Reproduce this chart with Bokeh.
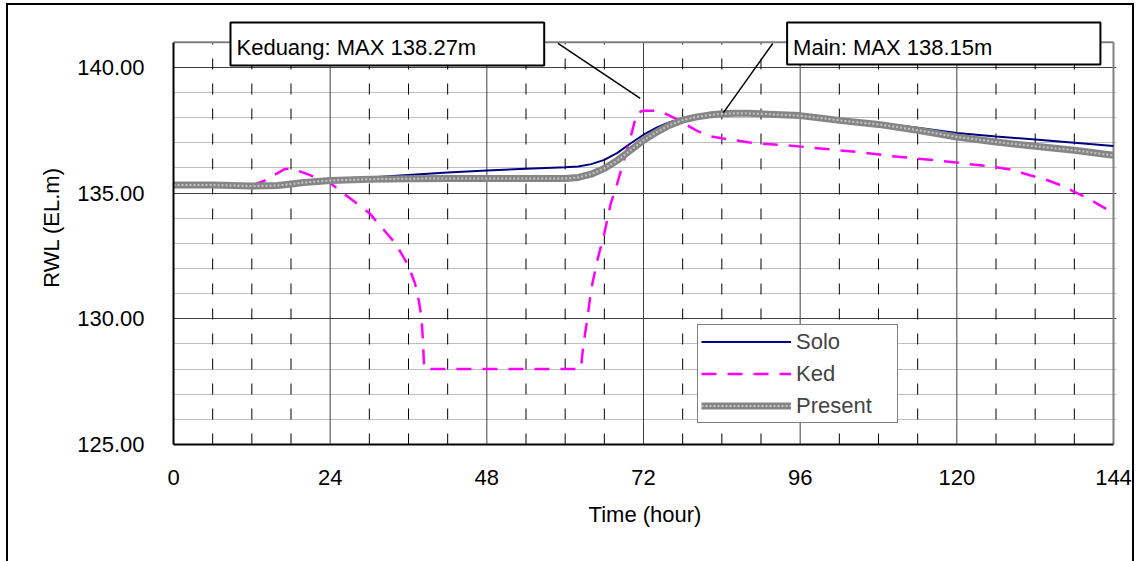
from bokeh.plotting import figure
from bokeh.models import (FixedTicker, PrintfTickFormatter, Legend, LegendItem, Label)
from bokeh.embed import file_html
from bokeh.resources import INLINE

# ---------------- data ----------------
hours_solo = [0, 6, 12, 18, 24, 30, 36, 42, 48, 54, 60, 62, 64, 66, 68, 70, 72, 74, 76,
              78, 80, 82, 84, 86, 88, 90, 96, 102, 108, 114, 120, 126, 132, 138, 144]
solo = [135.32, 135.32, 135.28, 135.35, 135.50, 135.62, 135.72, 135.82, 135.90, 135.97,
        136.03, 136.06, 136.15, 136.32, 136.60, 136.97, 137.32, 137.60, 137.82,
        137.97, 138.06, 138.12, 138.16, 138.18, 138.18, 138.16, 138.09, 137.96, 137.79,
        137.60, 137.39, 137.25, 137.13, 137.00, 136.87]

hours_ked = [0, 6, 12, 14, 17, 18, 20, 22, 24, 26, 28, 30, 32, 34, 36, 37, 37.6, 38, 38.2,
             38.4, 62.4, 62.8, 63.4, 64, 65, 66, 67, 68, 69, 70, 71, 72, 73.5, 75, 77,
             80, 82, 84, 86, 88, 90, 94, 98, 102, 106, 110, 114, 118, 122, 126, 128,
             130, 132, 134, 136, 138, 140, 142, 144]
ked = [135.30, 135.30, 135.30, 135.50, 135.95, 135.98, 135.80, 135.60, 135.40, 135.00,
       134.60, 134.20, 133.60, 133.00, 132.10, 131.40, 130.70, 130.00, 129.20,
       128.00, 128.00, 129.00, 130.00, 131.20, 132.40, 133.40, 134.60, 135.40, 136.30,
       137.20, 138.20, 138.27, 138.27, 138.20, 137.95, 137.50, 137.27, 137.18, 137.10,
       137.02, 136.97, 136.90, 136.80, 136.70, 136.60, 136.47, 136.37, 136.27, 136.15,
       136.03, 135.95, 135.80, 135.65, 135.50, 135.30, 135.05, 134.80, 134.50, 134.20]

hours_present = [0, 6, 12, 16, 20, 24, 30, 36, 42, 48, 54, 60, 62, 64, 66, 68, 70, 72, 74,
                 76, 78, 80, 82, 84, 86, 88, 90, 96, 102, 108, 114, 120, 126, 132, 138, 144]
present = [135.32, 135.32, 135.28, 135.30, 135.42, 135.50, 135.55, 135.57, 135.58, 135.58,
           135.58, 135.58, 135.62, 135.75, 135.98, 136.30, 136.70, 137.10, 137.42, 137.70,
           137.90, 138.02, 138.10, 138.15, 138.17, 138.17, 138.15, 138.08, 137.89, 137.73,
           137.50, 137.23, 137.03, 136.86, 136.70, 136.50]

x_ticks = [0, 24, 48, 72, 96, 120, 144]
x_minor = [6, 12, 18, 30, 36, 42, 54, 60, 66, 78, 84, 90, 102, 108, 114, 126, 132, 138]
y_ticks = [125, 130, 135, 140]
y_minor = [126, 127, 128, 129, 131, 132, 133, 134, 136, 137, 138, 139]
x_lim = [0, 144]
y_lim = [125, 141]

series_labels = ["Solo", "Ked", "Present"]

# callouts: text, box position, leader line (hour0, val0) -> (hour1, val1)
callout_text = ["Keduang: MAX 138.27m", "Main: MAX 138.15m"]
callout_x = [8.73, 94.0]
callout_y = [141.78, 141.78]
callout_pad = [(6, 68, 12, 6), (6, 108, 12, 5)]
leader_x0 = [58.9, 91.8]
leader_y0 = [140.95, 140.95]
leader_x1 = [71.5, 84.25]
leader_y1 = [138.77, 138.20]

FONT = "Liberation Sans"
FS = "22px"

page_styles = {
    "background-color": "#ffffff",
    "background-image": "linear-gradient(#000, #000), linear-gradient(#000, #000), "
                        "linear-gradient(#000, #000)",
    "background-repeat": "no-repeat",
    "background-size": "2px 700px, 2px 700px, 1128px 2px",
    "background-position": "6px 3px, 1132px 3px, 6px 3px",
}

p = figure(width=1139, height=561, x_range=(0, 144.46), y_range=(125, 142.26),
           output_backend="svg", toolbar_location=None,
           min_border_left=173, min_border_right=23, min_border_top=10,
           min_border_bottom=117, styles=page_styles)
p.background_fill_color = "white"
p.border_fill_alpha = 0
p.outline_line_color = None

p.xaxis.ticker = FixedTicker(ticks=x_ticks, minor_ticks=x_minor)
p.yaxis.ticker = FixedTicker(ticks=y_ticks, minor_ticks=y_minor)
p.yaxis.formatter = PrintfTickFormatter(format="%.2f")
p.xaxis.bounds = tuple(x_lim)
p.yaxis.bounds = tuple(y_lim)
p.xaxis.axis_label = "Time (hour)"
p.yaxis.axis_label = "RWL (EL.m)"
for ax in (p.xaxis[0], p.yaxis[0]):
    ax.axis_line_color = "black"
    ax.axis_line_width = 2
    ax.major_tick_line_color = None
    ax.minor_tick_line_color = None
    ax.major_label_text_font = FONT
    ax.major_label_text_font_size = FS
    ax.major_label_text_color = "black"
    ax.axis_label_text_font = FONT
    ax.axis_label_text_font_size = FS
    ax.axis_label_text_font_style = "normal"
    ax.axis_label_text_color = "black"
p.yaxis.major_label_standoff = 23
p.yaxis.axis_label_standoff = 10
p.xaxis.major_label_standoff = 19
p.xaxis.axis_label_standoff = 14

# horizontal grid from the axis ticker
p.ygrid.grid_line_color = "#404040"
p.ygrid.grid_line_width = 1
p.ygrid.minor_grid_line_color = "#7a7a7a"
p.ygrid.minor_grid_line_dash = "1 1"
p.ygrid.minor_grid_line_width = 1
# vertical grid limited to the plot area (drawn below)
p.xgrid.visible = False

p.segment(x0=x_minor, y0=[y_lim[0]] * len(x_minor), x1=x_minor, y1=[y_lim[1]] * len(x_minor),
          line_color="black", line_width=1, line_dash="11 14")
p.segment(x0=x_ticks[1:-1], y0=[y_lim[0]] * 5, x1=x_ticks[1:-1], y1=[y_lim[1]] * 5,
          line_color="#404040", line_width=1)
# plot-area top and right edges
p.segment(x0=[x_lim[0], x_lim[1]], y0=[y_lim[1], y_lim[0]],
          x1=[x_lim[1], x_lim[1]], y1=[y_lim[1], y_lim[1]],
          line_color="#808080", line_width=2)

r_solo = p.line(hours_solo, solo, line_color="#000080", line_width=2)
r_ked = p.line(hours_ked, ked, line_color="#FF00FF", line_width=2.5, line_dash="15 11")
r_pres = p.line(hours_present, present, line_color="#858585", line_width=7)
r_pres2 = p.line(hours_present, present, line_color="#c4c4c4", line_width=2, line_dash="2 2")

p.segment(x0=leader_x0, y0=leader_y0, x1=leader_x1, y1=leader_y1,
          line_color="black", line_width=1.5)

legend = Legend(items=[LegendItem(label=series_labels[0], renderers=[r_solo]),
                       LegendItem(label=series_labels[1], renderers=[r_ked]),
                       LegendItem(label=series_labels[2], renderers=[r_pres, r_pres2])],
                location=(524, 21), padding=3, spacing=5, label_height=27,
                glyph_height=27, glyph_width=90, label_standoff=5, label_width=98,
                margin=0, border_line_color="black", border_line_width=1,
                background_fill_color="white", background_fill_alpha=1,
                label_text_font=FONT, label_text_font_size=FS)
p.add_layout(legend)

for t, x, y, pad in zip(callout_text, callout_x, callout_y, callout_pad):
    p.add_layout(Label(x=x, y=y, text=t, text_align="left", text_baseline="top",
                       padding=pad, border_line_color="black", border_line_width=2,
                       background_fill_color="white", background_fill_alpha=1,
                       text_font=FONT, text_font_size=FS, text_color="black"))

open("out.html", "w").write(file_html(p, INLINE))
